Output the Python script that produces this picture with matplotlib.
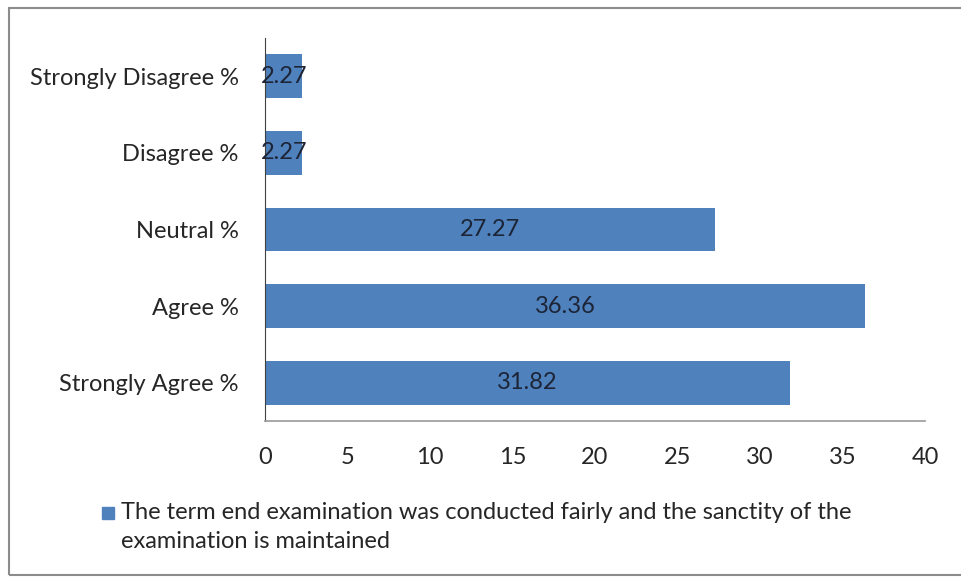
import matplotlib.pyplot as plt
from matplotlib.patches import Rectangle

categories = ["Strongly Agree %", "Agree %", "Neutral %", "Disagree %", "Strongly Disagree %"]
values = [31.82, 36.36, 27.27, 2.27, 2.27]
xticks = [0, 5, 10, 15, 20, 25, 30, 35, 40]
series_label = "The term end examination was conducted fairly and the sanctity of the\nexamination is maintained"

bar_color = "#4F81BD"
text_color = "#262626"
fs = 17
plt.rcParams['font.family'] = ['Lato', 'DejaVu Sans']

fig = plt.figure(figsize=(9.61, 5.8), dpi=100)
ax = fig.add_axes([0.2758, 0.2741, 0.9625 - 0.2758, 0.9345 - 0.2741])

bars = ax.barh(categories, values, height=0.57, color=bar_color)
for b, v in zip(bars, values):
    ax.text(b.get_width() / 2, b.get_y() + b.get_height() / 2, f"{v:.2f}",
            ha='center', va='center', fontsize=fs, color='#1c2436')

ax.set_xlim(0, 40)
ax.set_ylim(-0.5, 4.5)
ax.set_xticks(xticks)
ax.tick_params(axis='both', length=0, labelsize=fs, labelcolor=text_color)
ax.tick_params(axis='y', pad=19)
ax.tick_params(axis='x', pad=19)
for s in ['top', 'right']:
    ax.spines[s].set_visible(False)
ax.spines['left'].set_color('#404040')
ax.spines['bottom'].set_color('#999999')
ax.spines['bottom'].set_linewidth(1.2)

# legend drawn by hand so the marker sits next to the first line
fig.patches.append(Rectangle((102 / 961, 1 - 519 / 580), 12 / 961, 12 / 580,
                             transform=fig.transFigure, color=bar_color))
fig.text(121 / 961, 1 - 502 / 580, series_label, ha='left', va='top',
         fontsize=fs, color=text_color, linespacing=1.5)

# outer chart frame
fig.patches.append(Rectangle((9 / 961, 5 / 580), 1.0, 1 - 13 / 580,
                             transform=fig.transFigure, fill=False,
                             edgecolor='#8c8c8c', linewidth=1.5))

fig.savefig("out.png", dpi=100)
